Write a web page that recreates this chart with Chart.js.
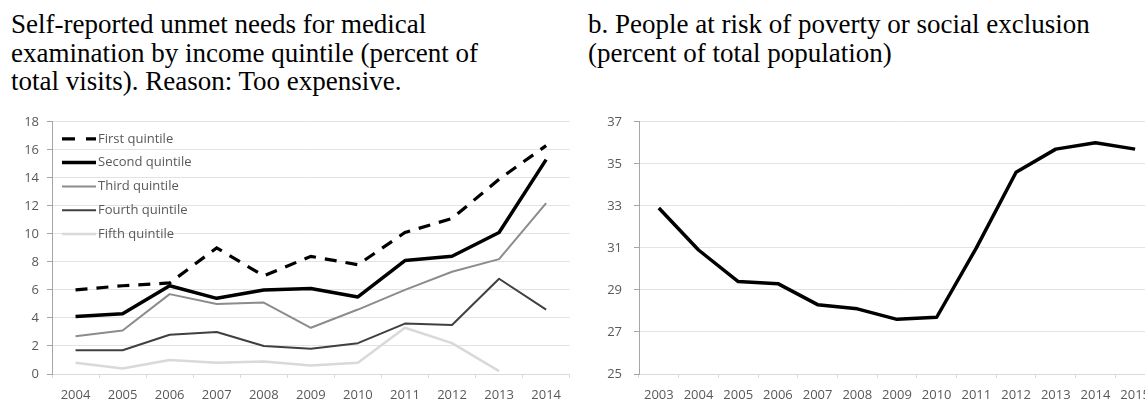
<!DOCTYPE html>
<html>
<head>
<meta charset="utf-8">
<script src="https://cdn.jsdelivr.net/npm/chart.js@4/dist/chart.umd.min.js"></script>
<style>
  html, body { margin: 0; padding: 0; background: #fff; overflow: hidden; }
  #page { position: relative; width: 1145px; height: 400px; overflow: hidden; background: #fff; }
  .title { position: absolute; font-family: "Liberation Serif", "Times New Roman", serif; font-size: 27px; line-height: 28.5px; color: #000; white-space: nowrap; }
  #t1 { left: 11px; top: 10px; }
  #t2 { left: 588px; top: 10px; }
  canvas { position: absolute; }
  #c1 { left: 12px; top: 106px; width: 558px; height: 294px; }
  #c2 { left: 599px; top: 102px; width: 560px; height: 298px; }
</style>
</head>
<body>
<div id="page">
  <div class="title" id="t1">Self-reported unmet needs for medical<br>examination by income quintile (percent of<br>total visits). Reason: Too expensive.</div>
  <div class="title" id="t2">b. People at risk of poverty or social exclusion<br>(percent of total population)</div>
  <canvas id="c1" width="558" height="294"></canvas>
  <canvas id="c2" width="560" height="298"></canvas>
</div>
<script>
// ---- Data: chart a ----
const yearsA = ['2004','2005','2006','2007','2008','2009','2010','2011','2012','2013','2014'];
const seriesNamesA = ['First quintile','Second quintile','Third quintile','Fourth quintile','Fifth quintile'];
const firstQuintile  = [6.0, 6.3, 6.5, 9.0, 7.0, 8.4, 7.8, 10.1, 11.1, 13.9, 16.3];
const secondQuintile = [4.1, 4.3, 6.3, 5.4, 6.0, 6.1, 5.5, 8.1, 8.4, 10.1, 15.3];
const thirdQuintile  = [2.7, 3.1, 5.7, 5.0, 5.1, 3.3, 4.6, 6.0, 7.3, 8.2, 12.2];
const fourthQuintile = [1.7, 1.7, 2.8, 3.0, 2.0, 1.8, 2.2, 3.6, 3.5, 6.8, 4.6];
const fifthQuintile  = [0.8, 0.4, 1.0, 0.8, 0.9, 0.6, 0.8, 3.3, 2.2, 0.2, null];

// ---- Data: chart b ----
const yearsB = ['2003','2004','2005','2006','2007','2008','2009','2010','2011','2012','2013','2014','2015'];
const povertyRisk = [32.9, 30.9, 29.4, 29.3, 28.3, 28.1, 27.6, 27.7, 31.0, 34.6, 35.7, 36.0, 35.7];

const fontFamily = '"Open Sans", "Liberation Sans", sans-serif';
const tickFont = { family: fontFamily, size: 13 };
const tickColor = '#595959';

function xScale() {
  return {
    type: 'category',
    offset: true,
    grid: { display: true, drawOnChartArea: false, drawTicks: true, tickLength: 4, color: '#d9d9d9', offset: true },
    border: { display: true, color: '#d9d9d9' },
    ticks: { font: tickFont, color: tickColor, padding: 9, maxRotation: 0, autoSkip: false },
    afterFit: s => { s.height = 26; }
  };
}
function yScale(min, max, pad) {
  return {
    min: min, max: max,
    grid: { color: '#e3e3e3', tickColor: '#a6a6a6', tickLength: 5 },
    border: { display: true, color: '#a6a6a6' },
    ticks: { stepSize: 2, font: tickFont, color: tickColor, padding: pad },
    afterFit: s => { s.width = 40; }
  };
}

// Legend drawn inside the plot area, top-left, using each dataset's own line style
const insideLegend = {
  id: 'insideLegend',
  afterDraw(chart) {
    const ctx = chart.ctx;
    const area = chart.chartArea;
    ctx.save();
    chart.data.datasets.forEach((ds, i) => {
      const y = area.top + 17 + i * 23.8;
      ctx.beginPath();
      ctx.strokeStyle = ds.borderColor;
      ctx.lineWidth = ds.borderWidth;
      ctx.setLineDash(ds.legendDash || []);
      ctx.lineCap = 'butt';
      ctx.moveTo(area.left + 10, y);
      ctx.lineTo(area.left + 44, y);
      ctx.stroke();
      ctx.setLineDash([]);
      ctx.fillStyle = tickColor;
      ctx.font = '13px ' + fontFamily;
      ctx.textBaseline = 'middle';
      ctx.textAlign = 'left';
      ctx.fillText(ds.label, area.left + 46, y);
    });
    ctx.restore();
  }
};

new Chart(document.getElementById('c1'), {
  type: 'line',
  data: {
    labels: yearsA,
    datasets: [
      { label: seriesNamesA[0], data: firstQuintile,  borderColor: '#000000', backgroundColor: '#000000', borderWidth: 3.2, borderDash: [12, 9], legendDash: [13, 11] },
      { label: seriesNamesA[1], data: secondQuintile, borderColor: '#000000', backgroundColor: '#000000', borderWidth: 3.5, borderJoinStyle: 'round' },
      { label: seriesNamesA[2], data: thirdQuintile,  borderColor: '#8c8c8c', backgroundColor: '#8c8c8c', borderWidth: 2,   borderJoinStyle: 'round' },
      { label: seriesNamesA[3], data: fourthQuintile, borderColor: '#404040', backgroundColor: '#404040', borderWidth: 2,   borderJoinStyle: 'round' },
      { label: seriesNamesA[4], data: fifthQuintile,  borderColor: '#d9d9d9', backgroundColor: '#d9d9d9', borderWidth: 2.5, borderJoinStyle: 'round' }
    ]
  },
  options: {
    responsive: false,
    animation: false,
    layout: { padding: 0 },
    elements: { point: { radius: 0 }, line: { tension: 0 } },
    scales: { x: xScale(), y: yScale(0, 18, 8) },
    plugins: { tooltip: { enabled: false }, legend: { display: false } }
  },
  plugins: [insideLegend]
});

new Chart(document.getElementById('c2'), {
  type: 'line',
  data: {
    labels: yearsB,
    datasets: [
      { label: 'At risk of poverty or social exclusion', data: povertyRisk, borderColor: '#000000', backgroundColor: '#000000', borderWidth: 3.5, borderJoinStyle: 'round' }
    ]
  },
  options: {
    responsive: false,
    animation: false,
    layout: { padding: 0 },
    elements: { point: { radius: 0 }, line: { tension: 0 } },
    scales: { x: xScale(), y: yScale(25, 37, 12) },
    plugins: { tooltip: { enabled: false }, legend: { display: false } }
  }
});
</script>
</body>
</html>
